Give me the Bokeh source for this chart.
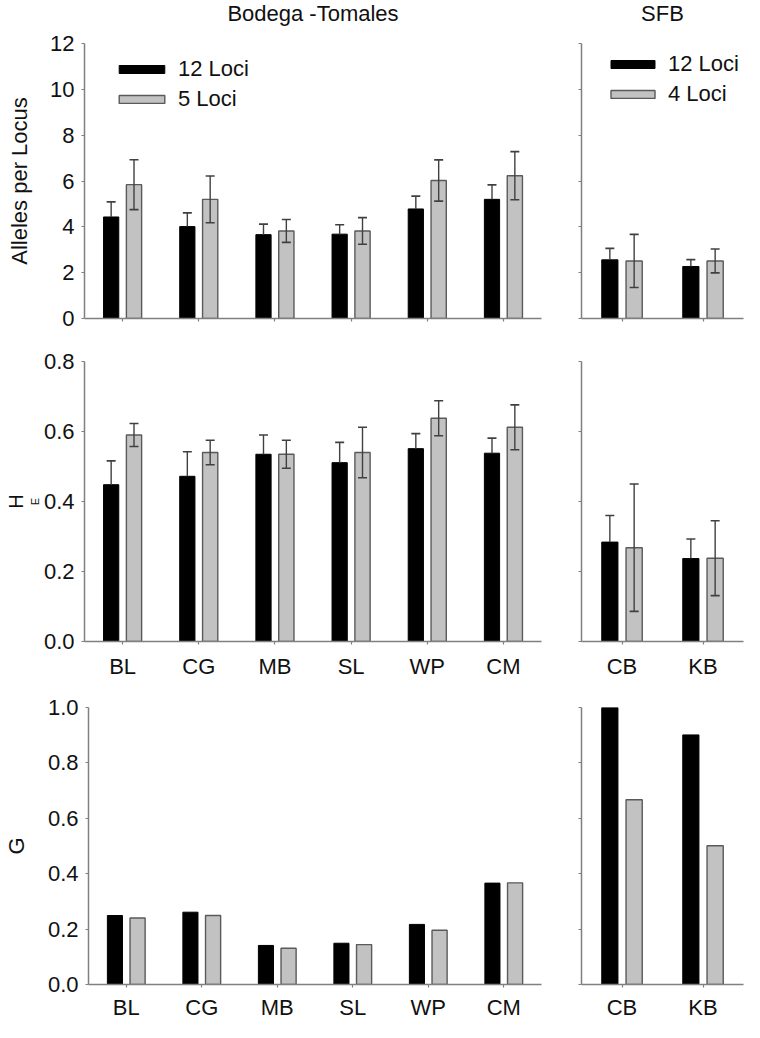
from bokeh.plotting import figure
from bokeh.layouts import column, row
from bokeh.models import (ColumnDataSource, FactorRange, Range1d, Whisker, TeeHead,
                          FixedTicker, Legend, LegendItem, LinearAxis, Title,
                          CustomJSTickFormatter)
from bokeh.core.properties import value
from bokeh.transform import dodge
from bokeh.embed import file_html
from bokeh.resources import INLINE

# ---------------- data ----------------
cats_bt = ["BL", "CG", "MB", "SL", "WP", "CM"]
cats_sfb = ["CB", "KB"]

title_bt = "Bodega -Tomales"
title_sfb = "SFB"
legend_bt = ["12 Loci", "5 Loci"]
legend_sfb = ["12 Loci", "4 Loci"]
ylabel_alleles = "Alleles per Locus"
ylabel_he = ("H", "E")
ylabel_g = "G"

# Alleles per locus (mean, SE)
alleles_12_bt = [4.43, 4.01, 3.66, 3.68, 4.78, 5.20]
alleles_12_bt_err = [0.66, 0.60, 0.46, 0.41, 0.56, 0.63]
alleles_5_bt = [5.84, 5.20, 3.82, 3.82, 6.02, 6.23]
alleles_5_bt_err = [1.09, 1.02, 0.50, 0.58, 0.90, 1.05]
alleles_12_sfb = [2.56, 2.27]
alleles_12_sfb_err = [0.50, 0.30]
alleles_4_sfb = [2.51, 2.51]
alleles_4_sfb_err = [1.16, 0.52]

# Expected heterozygosity (mean, SE)
he_12_bt = [0.448, 0.472, 0.535, 0.511, 0.551, 0.538]
he_12_bt_err = [0.068, 0.070, 0.055, 0.058, 0.043, 0.043]
he_5_bt = [0.590, 0.540, 0.535, 0.540, 0.638, 0.612]
he_5_bt_err = [0.033, 0.035, 0.040, 0.072, 0.050, 0.064]
he_12_sfb = [0.284, 0.237]
he_12_sfb_err = [0.076, 0.056]
he_4_sfb = [0.268, 0.238]
he_4_sfb_err = [0.182, 0.107]

# G
g_12_bt = [0.249, 0.261, 0.141, 0.149, 0.217, 0.366]
g_5_bt = [0.240, 0.249, 0.131, 0.144, 0.196, 0.367]
g_12_sfb = [1.0, 0.901]
g_4_sfb = [0.667, 0.501]

alleles_ticks = [0, 2, 4, 6, 8, 10, 12]
he_ticks = [0.0, 0.2, 0.4, 0.6, 0.8]
g_ticks = [0.0, 0.2, 0.4, 0.6, 0.8, 1.0]

# ---------------- style / geometry ----------------
FONT = "Liberation Sans"
TXT = "#111111"
AXIS = "#808080"
GRAY = "#c2c2c2"
GRAY_LINE = "#5a5a5a"
ERR = "#404040"
OFF = 0.15
BW = 0.2

TOTAL_W = 744
L_BORDER_L, L_FRAME, L_BORDER_R = 84, 457, 20
LEFT_W = L_BORDER_L + L_FRAME + L_BORDER_R          # 561
R_BORDER_L, R_BORDER_R = 20, 1
RIGHT_W = TOTAL_W - LEFT_W                           # 183
R_FRAME = RIGHT_W - R_BORDER_L - R_BORDER_R          # 162
STRIP_H = 27


def style_axis(ax):
    ax.axis_line_color = AXIS
    ax.axis_line_width = 1.5
    ax.major_tick_line_color = AXIS
    ax.major_tick_line_width = 1.2
    ax.major_tick_out = 3
    ax.major_tick_in = 0
    ax.minor_tick_line_color = AXIS
    ax.minor_tick_line_width = 1.2
    ax.minor_tick_out = 3
    ax.minor_tick_in = 0
    ax.major_label_text_font = FONT
    ax.major_label_text_color = TXT
    ax.major_label_text_font_size = "22px"


def make_fig(cats, ymax, ticks, left, height, btop, bbottom, xlabels, ylabels,
             decimals=0, ylabel=None, ylabel_standoff=12, xstandoff=7):
    width = LEFT_W if left else RIGHT_W
    p = figure(x_range=FactorRange(*cats), y_range=Range1d(0, ymax),
               width=width, height=height, output_backend="svg",
               toolbar_location=None, title=None,
               x_axis_location="below" if xlabels else None,
               y_axis_location="left" if ylabels else None,
               min_border_left=L_BORDER_L if left else R_BORDER_L,
               min_border_right=L_BORDER_R if left else R_BORDER_R,
               min_border_top=btop, min_border_bottom=bbottom)
    p.outline_line_color = None
    p.background_fill_color = "white"
    p.border_fill_color = "white"
    if xlabels:
        xa = p.xaxis[0]
        style_axis(xa)
        xa.major_label_standoff = xstandoff
    else:
        # axis line with unlabeled ticks at the category centres
        xa = LinearAxis(ticker=FixedTicker(ticks=[],
                        minor_ticks=[i + 0.5 for i in range(len(cats))]))
        style_axis(xa)
        p.add_layout(xa, "below")
    if ylabels:
        ya = p.yaxis[0]
        style_axis(ya)
        ya.ticker = FixedTicker(ticks=ticks)
        ya.major_label_standoff = 7
        if decimals:
            ya.formatter = CustomJSTickFormatter(
                code="return tick.toFixed(%d);" % decimals)
        if ylabel:
            ya.axis_label = ylabel
            ya.axis_label_text_font = FONT
            ya.axis_label_text_font_size = "22px"
            ya.axis_label_text_font_style = "normal"
            ya.axis_label_text_color = TXT
            ya.axis_label_standoff = ylabel_standoff
    else:
        ya = LinearAxis(ticker=FixedTicker(ticks=[], minor_ticks=ticks))
        style_axis(ya)
        p.add_layout(ya, "left")
    for g in p.grid:
        g.grid_line_color = None
    return p


def add_bars(p, cats, v1, v2, e1=None, e2=None):
    data = dict(cat=cats, v1=v1, v2=v2)
    if e1 is not None:
        data["lo1"] = list(v1)
        data["up1"] = [a + b for a, b in zip(v1, e1)]
        data["lo2"] = [a - b for a, b in zip(v2, e2)]
        data["up2"] = [a + b for a, b in zip(v2, e2)]
    src = ColumnDataSource(data)
    r1 = p.vbar(x=dodge("cat", -OFF, range=p.x_range), top="v1", width=BW,
                source=src, fill_color="black", line_color="black", line_width=1)
    r2 = p.vbar(x=dodge("cat", OFF, range=p.x_range), top="v2", width=BW,
                source=src, fill_color=GRAY, line_color=GRAY_LINE, line_width=1.4)
    if e1 is not None:
        w1 = Whisker(base=dodge("cat", -OFF, range=p.x_range), lower="lo1", upper="up1",
                     source=src, line_color=ERR, line_width=1.4, level="annotation",
                     upper_head=TeeHead(size=9, line_color=ERR, line_width=1.6),
                     lower_head=None)
        w2 = Whisker(base=dodge("cat", OFF, range=p.x_range), lower="lo2", upper="up2",
                     source=src, line_color=ERR, line_width=1.4, level="annotation",
                     upper_head=TeeHead(size=9, line_color=ERR, line_width=1.6),
                     lower_head=TeeHead(size=9, line_color=ERR, line_width=1.6))
        p.add_layout(w1)
        p.add_layout(w2)
    return r1, r2


def add_legend(p, r1, r2, labels, x, y, glyph_w=57):
    lg = Legend(items=[LegendItem(label=labels[0], renderers=[r1]),
                       LegendItem(label=labels[1], renderers=[r2])],
                location=(x, y), orientation="vertical",
                glyph_width=glyph_w, glyph_height=10, label_height=28, spacing=2,
                label_standoff=8, padding=0, margin=0,
                label_text_font=FONT, label_text_font_size="22px",
                label_text_color=TXT,
                border_line_color=None, background_fill_alpha=0)
    p.add_layout(lg)


def blank_fig(width, height):
    f = figure(frame_width=width, frame_height=height, x_range=Range1d(0, width),
               y_range=Range1d(0, height), output_backend="svg", title=None,
               toolbar_location=None, x_axis_location=None, y_axis_location=None,
               min_border=0)
    f.outline_line_color = None
    f.background_fill_color = "white"
    f.border_fill_color = "white"
    for g in f.grid:
        g.grid_line_color = None
    return f


# ---------------- title strip ----------------
ts = blank_fig(TOTAL_W, STRIP_H)
ts.text(x=[L_BORDER_L + L_FRAME / 2, LEFT_W + R_BORDER_L + R_FRAME / 2],
        y=[STRIP_H - 13, STRIP_H - 13],
        text=[title_bt, title_sfb], text_align="center", text_baseline="middle",
        text_font=value(FONT), text_font_size="22px", text_color=TXT)

# ---------------- row 1: alleles per locus ----------------
ROW1_H = 313
p1l = make_fig(cats_bt, 12, alleles_ticks, True, ROW1_H, 11, 22, False, True,
               ylabel=ylabel_alleles, ylabel_standoff=15)
r1, r2 = add_bars(p1l, cats_bt, alleles_12_bt, alleles_5_bt, alleles_12_bt_err, alleles_5_bt_err)
add_legend(p1l, r1, r2, legend_bt, 29, 205)

p1r = make_fig(cats_sfb, 12, alleles_ticks, False, ROW1_H, 16, 17, False, False)
r1, r2 = add_bars(p1r, cats_sfb, alleles_12_sfb, alleles_4_sfb, alleles_12_sfb_err, alleles_4_sfb_err)
add_legend(p1r, r1, r2, legend_sfb, 24, 210, glyph_w=55)

# ---------------- row 2: HE ----------------
ROW2_H = 342
p2l = make_fig(cats_bt, 0.8, he_ticks, True, ROW2_H, 21, 41, True, True, decimals=1,
               xstandoff=9)
add_bars(p2l, cats_bt, he_12_bt, he_5_bt, he_12_bt_err, he_5_bt_err)
# y label "H" with subscript "E" (E next to the axis, H outside it)
p2l.add_layout(Title(text=ylabel_he[1], align="center", standoff=0,
                     text_font=FONT, text_font_size="11px", text_font_style="normal",
                     text_color=TXT), "left")
p2l.add_layout(Title(text=ylabel_he[0], align="center", standoff=0,
                     text_font=FONT, text_font_size="20px", text_font_style="normal",
                     text_color=TXT), "left")

p2r = make_fig(cats_sfb, 0.8, he_ticks, False, ROW2_H, 21, 41, True, False, xstandoff=9)
add_bars(p2r, cats_sfb, he_12_sfb, he_4_sfb, he_12_sfb_err, he_4_sfb_err)

# ---------------- row 3: G ----------------
ROW3_H = 340
p3l = make_fig(cats_bt, 1.0, g_ticks, True, ROW3_H, 25, 35, True, True, decimals=1,
               ylabel=ylabel_g, ylabel_standoff=16)
add_bars(p3l, cats_bt, g_12_bt, g_5_bt)

p3r = make_fig(cats_sfb, 1.0, g_ticks, False, ROW3_H, 25, 35, True, False)
add_bars(p3r, cats_sfb, g_12_sfb, g_4_sfb)

layout = column(ts,
                row(p1l, p1r, spacing=0),
                row(p2l, p2r, spacing=0),
                row(p3l, p3r, spacing=0), spacing=0)

open("out.html", "w").write(file_html(layout, INLINE))
